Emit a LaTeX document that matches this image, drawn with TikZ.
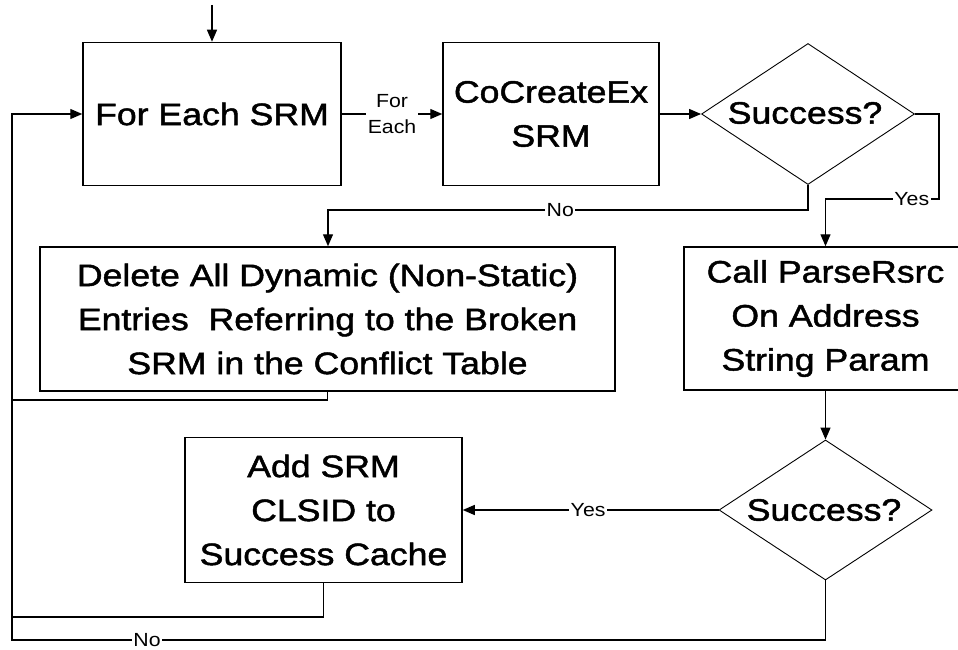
\documentclass[tikz,border=0pt]{standalone}
\usepackage{fontspec}
\setmainfont{Liberation Sans}
\newfontfamily\bigf{Liberation Sans}[FakeStretch=1.15,FakeBold=1.5]
\newfontfamily\smallf{Liberation Sans}[FakeStretch=1.12]
\usetikzlibrary{shapes.geometric,arrows.meta}
\begin{document}
\begin{tikzpicture}[x=1pt,y=-1pt,
  box/.style={draw,line width=1.5pt,inner sep=0pt,align=center,font=\bigf\fontsize{31}{44}\selectfont},
  txt/.style={inner sep=0pt,align=center,font=\bigf\fontsize{31}{44}\selectfont},
  dia/.style={draw,diamond,line width=0.9pt,inner sep=0pt},
  lbl/.style={fill=white,inner sep=1.5pt,align=center,font=\smallf\fontsize{19}{26}\selectfont},
  conn/.style={line width=1.3pt},
  arr/.style={conn,-{Triangle[length=12pt,width=10pt]}}]
\useasboundingbox (0,0) rectangle (958,650);
\clip (0,0) rectangle (958,650);
\fill[white] (0,0) rectangle (958,650);
% nodes
\node[box,minimum width=258pt,minimum height=143pt] (b1) at (212,114) {For Each SRM};
\node[box,minimum width=216pt,minimum height=143pt] (b2) at (551,114) {CoCreateEx\\SRM};
\node[dia,minimum width=213pt,minimum height=141pt] (d1) at (808,114) {};
\node[txt] (t1) at (805,113) {Success?};
\node[box,minimum width=575pt,minimum height=144pt] (del) at (327.5,319) {Delete All Dynamic (Non-Static)\\Entries\ \ Referring to the Broken\\SRM in the Conflict Table};
\node[box,minimum width=283pt,minimum height=143pt] (call) at (825.5,318.5) {Call ParseRsrc\\On Address\\String Param};
\node[dia,minimum width=213pt,minimum height=140pt] (d2) at (825.5,510) {};
\node[txt] (t2) at (824,510) {Success?};
\node[box,minimum width=277pt,minimum height=145pt] (add) at (323.5,510) {Add SRM\\CLSID to\\Success Cache};
% coordinates
\coordinate (start) at (212,5);
\coordinate (y1) at (939,199);
\coordinate (y2) at (825.5,199);
\coordinate (n1) at (808,210);
\coordinate (n2) at (328,210);
\coordinate (L1) at (12,640);
\coordinate (L2) at (12,114);
\coordinate (L3) at (12,400);
\coordinate (L4) at (12,617);
\coordinate (n3) at (825.5,640);
% connectors
\draw[arr] (start) -- (b1.north);
\draw[arr] (b1.east) -- node[lbl]{For\\Each} (b2.west);
\draw[arr] (b2.east) -- (d1.west);
\draw[arr] (d1.east) -| (y1) -- node[lbl,pos=0.24]{Yes} (y2) -- (y2 |- call.north);
\draw[arr] (d1.south) -- (n1) -- node[lbl,pos=0.516]{No} (n2) -- (n2 |- del.north);
\draw[arr] (call.south) -- (d2.north);
\draw[arr] (d2.west) -- node[lbl,pos=0.51]{Yes} (add.east);
\draw[arr] (d2.south) -- (n3) -- node[lbl,pos=0.834]{No} (L1) -- (L2) -- (b1.west);
\draw[conn] (del.south) |- (L3);
\draw[conn] (add.south) |- (L4);
\end{tikzpicture}
\end{document}
